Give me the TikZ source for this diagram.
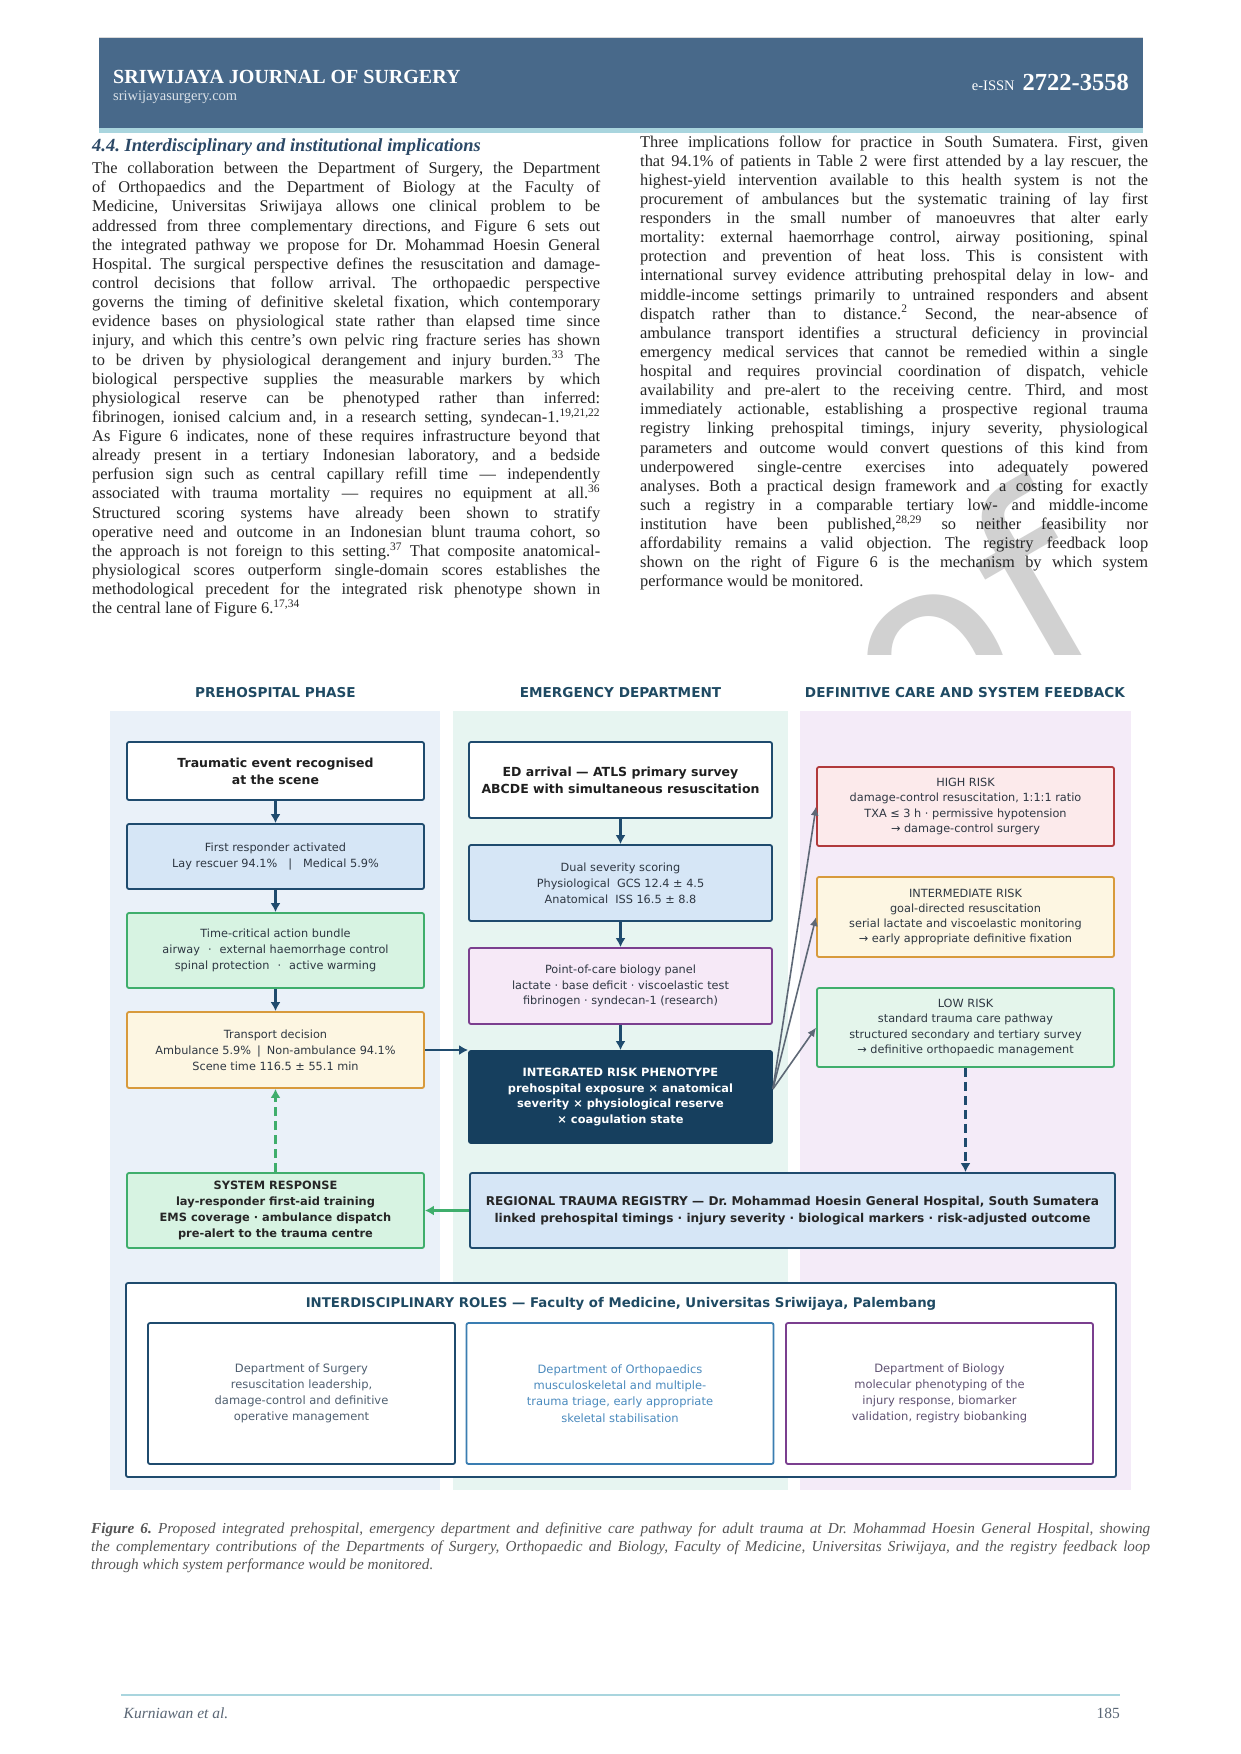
\documentclass[tikz,border=0pt]{standalone}
\usepackage{fontspec}
\setmainfont{Liberation Serif}
\newfontfamily\dvs{DejaVu Sans}
\usetikzlibrary{calc,arrows.meta}
\tolerance=9999\relax
\hbadness=10000\relax
\frenchspacing

\definecolor{hdrblue}{HTML}{48698A}
\definecolor{hdrline}{HTML}{A9D5DE}
\definecolor{headblue}{HTML}{2B4866}
\definecolor{bodytxt}{HTML}{262626}
\definecolor{captxt}{HTML}{555555}
\definecolor{navy}{HTML}{1F4B6E}
\definecolor{lanetitle}{HTML}{1F4A63}
\definecolor{laneA}{HTML}{EAF1F9}
\definecolor{laneB}{HTML}{E7F5F1}
\definecolor{laneC}{HTML}{F4EBF8}
\definecolor{boxtxt}{HTML}{2E3742}
\definecolor{bluefill}{HTML}{D6E6F6}
\definecolor{greenfill}{HTML}{D7F3E2}
\definecolor{greenline}{HTML}{3FAE6C}
\definecolor{creamfill}{HTML}{FDF6E2}
\definecolor{orangeline}{HTML}{D89A3C}
\definecolor{lilacfill}{HTML}{F6E9F7}
\definecolor{purpleline}{HTML}{7B3F8F}
\definecolor{phenofill}{HTML}{163F5E}
\definecolor{redfill}{HTML}{FCEAEB}
\definecolor{redline}{HTML}{B13A3C}
\definecolor{mintfill}{HTML}{E4F5EB}
\definecolor{fangray}{HTML}{5E6876}
\definecolor{orthoblue}{HTML}{3A7DB1}
\definecolor{orthotxt}{HTML}{4C8BBE}
\definecolor{surgtxt}{HTML}{4F5F70}
\definecolor{biotxt}{HTML}{5F5272}
\definecolor{foottxt}{HTML}{5A6675}

\begin{document}
\begin{tikzpicture}[x=1pt,y=-1pt,
  stepbox/.style={draw=navy, line width=1.8pt, rounded corners=2pt, inner sep=0pt,
    align=center, text=boxtxt, font=\dvs\fontsize{11.3}{15.8}\selectfont},
  phbox/.style={stepbox, minimum width=297pt},
  edbox/.style={stepbox, minimum width=303pt},
  boldtxt/.style={font=\dvs\bfseries\fontsize{11.4}{15.8}\selectfont, text=black!85},
  titletxt/.style={font=\dvs\bfseries\fontsize{12.5}{17}\selectfont, text=black!88},
  flow/.style={draw=navy, line width=2.4pt, -{Latex[length=9pt,width=10pt]}},
  fan/.style={draw=fangray, line width=1.6pt, -{Latex[length=9pt,width=8pt]}},
  lanehead/.style={inner sep=0pt, font=\dvs\bfseries\fontsize{13.6}{16}\selectfont, text=lanetitle},
  dept/.style={line width=1.8pt, rounded corners=2pt, fill=white, minimum width=307pt,
    minimum height=141pt, inner sep=0pt, align=center, font=\dvs\fontsize{11.5}{16.2}\selectfont},
  body/.style={anchor=base west, inner sep=0pt, text width=508pt, align=justify, text=bodytxt,
    font=\fontsize{16.4}{19.13}\selectfont}]

  \useasboundingbox (0,0) rectangle (1240,1754);
  \fill[white] (0,0) rectangle (1240,1754);

  %% Journal header band
  \fill[hdrline] (99,128) rectangle (1143,132.5);
  \fill[hdrblue] (99,38) rectangle (1143,128);
  \draw[black!15, line width=1pt] (99,37.5) -- (1143,37.5);
  \node[anchor=base west, inner sep=0pt, text=white, font=\bfseries\fontsize{20}{20}\selectfont] (jname) at (113,83) {SRIWIJAYA JOURNAL OF SURGERY};
  \node[anchor=base west, inner sep=0pt, text=white!80!hdrblue, font=\fontsize{14.5}{14.5}\selectfont] (jsite) at (113,100) {sriwijayasurgery.com};
  \node[anchor=base east, inner sep=0pt, text=white] (jissn) at (1129,90) {{\fontsize{14.5}{14.5}\selectfont e-ISSN}\hspace{8pt}{\bfseries\fontsize{24.5}{24.5}\selectfont 2722-3558}};

  %% Watermark behind the text
  \node[rotate=30, anchor=base east, inner sep=0pt, text=black!18, font=\dvs\fontsize{260}{260}\selectfont] (proofmark) at (1122,645) {Proof};

  %% Two text columns
  \node[anchor=base west, inner sep=0pt, text=headblue, font=\bfseries\itshape\fontsize{18.5}{20}\selectfont] (sechead) at (92,151) {4.4. Interdisciplinary and institutional implications};
  \node[body] (leftcol) at (92,173.7) {The collaboration between the Department of Surgery, the Department\linebreak
    of Orthopaedics and the Department of Biology at the Faculty of\linebreak
    Medicine, Universitas Sriwijaya allows one clinical problem to be\linebreak
    addressed from three complementary directions, and Figure 6 sets out\linebreak
    the integrated pathway we propose for Dr. Mohammad Hoesin General\linebreak
    Hospital. The surgical perspective defines the resuscitation and damage-\linebreak
    control decisions that follow arrival. The orthopaedic perspective\linebreak
    governs the timing of definitive skeletal fixation, which contemporary\linebreak
    evidence bases on physiological state rather than elapsed time since\linebreak
    injury, and which this centre's own pelvic ring fracture series has shown\linebreak
    to be driven by physiological derangement and injury burden.\textsuperscript{33} The\linebreak
    biological perspective supplies the measurable markers by which\linebreak
    physiological reserve can be phenotyped rather than inferred:\linebreak
    fibrinogen, ionised calcium and, in a research setting, syndecan-1.\textsuperscript{19,21,22}\linebreak
    As Figure 6 indicates, none of these requires infrastructure beyond that\linebreak
    already present in a tertiary Indonesian laboratory, and a bedside\linebreak
    perfusion sign such as central capillary refill time — independently\linebreak
    associated with trauma mortality — requires no equipment at all.\textsuperscript{36}\linebreak
    Structured scoring systems have already been shown to stratify\linebreak
    operative need and outcome in an Indonesian blunt trauma cohort, so\linebreak
    the approach is not foreign to this setting.\textsuperscript{37} That composite anatomical-\linebreak
    physiological scores outperform single-domain scores establishes the\linebreak
    methodological precedent for the integrated risk phenotype shown in\linebreak
    the central lane of Figure 6.\textsuperscript{17,34}};
  \node[body] (rightcol) at (640,147) {Three implications follow for practice in South Sumatera. First, given\linebreak
    that 94.1\% of patients in Table 2 were first attended by a lay rescuer, the\linebreak
    highest-yield intervention available to this health system is not the\linebreak
    procurement of ambulances but the systematic training of lay first\linebreak
    responders in the small number of manoeuvres that alter early\linebreak
    mortality: external haemorrhage control, airway positioning, spinal\linebreak
    protection and prevention of heat loss. This is consistent with\linebreak
    international survey evidence attributing prehospital delay in low- and\linebreak
    middle-income settings primarily to untrained responders and absent\linebreak
    dispatch rather than to distance.\textsuperscript{2} Second, the near-absence of\linebreak
    ambulance transport identifies a structural deficiency in provincial\linebreak
    emergency medical services that cannot be remedied within a single\linebreak
    hospital and requires provincial coordination of dispatch, vehicle\linebreak
    availability and pre-alert to the receiving centre. Third, and most\linebreak
    immediately actionable, establishing a prospective regional trauma\linebreak
    registry linking prehospital timings, injury severity, physiological\linebreak
    parameters and outcome would convert questions of this kind from\linebreak
    underpowered single-centre exercises into adequately powered\linebreak
    analyses. Both a practical design framework and a costing for exactly\linebreak
    such a registry in a comparable tertiary low- and middle-income\linebreak
    institution have been published,\textsuperscript{28,29} so neither feasibility nor\linebreak
    affordability remains a valid objection. The registry feedback loop\linebreak
    shown on the right of Figure 6 is the mechanism by which system\linebreak
    performance would be monitored.};

  %% Figure 6: lanes and their headings
  \fill[white] (95,655) rectangle (1145,1500);
  \foreach \x/\w/\c in {110/440/laneA, 453/788/laneB, 800/1131/laneC}
    \fill[\c] (\x,711) rectangle (\w,1490);
  \node[lanehead] (preHead) at (275.5,693) {PREHOSPITAL PHASE};
  \node[lanehead] (edHead) at (620.5,693) {EMERGENCY DEPARTMENT};
  \node[lanehead] (dcHead) at (965,693) {DEFINITIVE CARE AND SYSTEM FEEDBACK};

  %% Prehospital lane
  \node[phbox, fill=white, minimum height=58pt, titletxt] (trauma) at (275.5,771) {Traumatic event recognised\\at the scene};
  \node[phbox, fill=bluefill, minimum height=65pt] (responder) at (275.5,856.5) {First responder activated\\Lay rescuer 94.1\%\hspace{11pt}|\hspace{11pt}Medical 5.9\%};
  \node[phbox, fill=greenfill, draw=greenline, minimum height=75pt] (bundle) at (275.5,950.5) {Time-critical action bundle\\airway\hspace{8pt}·\hspace{8pt}external haemorrhage control\\spinal protection\hspace{8pt}·\hspace{8pt}active warming};
  \node[phbox, fill=creamfill, draw=orangeline, minimum height=76pt] (transport) at (275.5,1050) {Transport decision\\Ambulance 5.9\%\hspace{6pt}|\hspace{6pt}Non-ambulance 94.1\%\\Scene time 116.5 ± 55.1 min};
  \node[phbox, fill=greenfill, draw=greenline, minimum height=75pt, boldtxt] (sysresp) at (275.5,1210.5) {SYSTEM RESPONSE\\lay-responder first-aid training\\EMS coverage · ambulance dispatch\\pre-alert to the trauma centre};

  %% Emergency department lane
  \node[edbox, fill=white, minimum height=76pt, titletxt] (arrival) at (620.5,780) {ED arrival — ATLS primary survey\\ABCDE with simultaneous resuscitation};
  \node[edbox, fill=bluefill, minimum height=76pt] (scoring) at (620.5,883) {Dual severity scoring\\Physiological\hspace{7pt}GCS 12.4 ± 4.5\\Anatomical\hspace{7pt}ISS 16.5 ± 8.8};
  \node[edbox, fill=lilacfill, draw=purpleline, minimum height=76pt] (biology) at (620.5,986) {Point-of-care biology panel\\lactate · base deficit · viscoelastic test\\fibrinogen · syndecan-1 (research)};
  \node[edbox, fill=phenofill, draw=phenofill, minimum height=92pt, boldtxt, text=white] (phenotype) at (620.5,1097) {INTEGRATED RISK PHENOTYPE\\prehospital exposure × anatomical\\severity × physiological reserve\\× coagulation state};

  %% Definitive care lane
  \node[phbox, fill=redfill, draw=redline, minimum height=79pt, font=\dvs\fontsize{11.3}{15.2}\selectfont] (high) at (965.5,806.5) {HIGH RISK\\damage-control resuscitation, 1:1:1 ratio\\TXA ≤ 3 h · permissive hypotension\\→ damage-control surgery};
  \node[phbox, fill=creamfill, draw=orangeline, minimum height=80pt, font=\dvs\fontsize{11.3}{15.2}\selectfont] (inter) at (965.5,917) {INTERMEDIATE RISK\\goal-directed resuscitation\\serial lactate and viscoelastic monitoring\\→ early appropriate definitive fixation};
  \node[phbox, fill=mintfill, draw=greenline, minimum height=79pt, font=\dvs\fontsize{11.3}{15.2}\selectfont] (low) at (965.5,1027.5) {LOW RISK\\standard trauma care pathway\\structured secondary and tertiary survey\\→ definitive orthopaedic management};

  %% Registry across two lanes
  \node[stepbox, fill=bluefill, minimum width=645pt, minimum height=75pt, font=\dvs\bfseries\fontsize{12.1}{16.5}\selectfont, text=black!85] (registry) at (792.5,1210.5) {REGIONAL TRAUMA REGISTRY — Dr. Mohammad Hoesin General Hospital, South Sumatera\\linked prehospital timings · injury severity · biological markers · risk-adjusted outcome};

  %% Connectors
  \foreach \a/\b in {trauma/responder, responder/bundle, bundle/transport, arrival/scoring, scoring/biology, biology/phenotype}
    \draw[flow] (\a) -- (\b);
  \draw[flow] (transport.east) -- (transport.east -| phenotype.west);
  \foreach \r in {high,inter,low}
    \draw[fan] ($(phenotype.east)+(0,-8)$) -- (\r.west);
  \draw[flow, dash pattern=on 9pt off 5pt] (low.south) -- (low.south |- registry.north);
  \draw[flow, draw=greenline] (registry.west) -- (sysresp.east);
  \draw[flow, draw=greenline, dash pattern=on 9pt off 5pt] (sysresp.north) -- (transport.south);

  %% Interdisciplinary roles panel
  \node[draw=navy, line width=1.8pt, rounded corners=2pt, fill=white, minimum width=990pt, minimum height=194pt] (roles) at (621,1380) {};
  \node[inner sep=0pt, font=\dvs\bfseries\fontsize{13.3}{16}\selectfont, text=lanetitle] (rolesHead) at (621,1304) {INTERDISCIPLINARY ROLES — Faculty of Medicine, Universitas Sriwijaya, Palembang};
  \node[dept, draw=navy, text=surgtxt] (surgery) at (301.5,1393.5) {Department of Surgery\\resuscitation leadership,\\damage-control and definitive\\operative management};
  \node[dept, draw=orthoblue, text=orthotxt] (ortho) at (620,1393.5) {Department of Orthopaedics\\musculoskeletal and multiple-\\trauma triage, early appropriate\\skeletal stabilisation};
  \node[dept, draw=purpleline, text=biotxt] (biolog) at (939.5,1393.5) {Department of Biology\\molecular phenotyping of the\\injury response, biomarker\\validation, registry biobanking};

  %% Caption and footer
  \node[anchor=base west, inner sep=0pt, text width=1059pt, align=justify, text=captxt,
    font=\itshape\fontsize{15.2}{18}\selectfont] (caption) at (91,1533)
    {\textbf{Figure 6.} Proposed integrated prehospital, emergency department and definitive care pathway for adult trauma at Dr. Mohammad Hoesin General Hospital, showing\linebreak
    the complementary contributions of the Departments of Surgery, Orthopaedic and Biology, Faculty of Medicine, Universitas Sriwijaya, and the registry feedback loop\linebreak
    through which system performance would be monitored.};
  \draw[hdrline, line width=2pt] (121,1695) -- (1120,1695);
  \node[anchor=base west, inner sep=0pt, text=foottxt, font=\itshape\fontsize{15.5}{15.5}\selectfont] (author) at (123.5,1718) {Kurniawan et al.};
  \node[anchor=base east, inner sep=0pt, text=foottxt, font=\fontsize{15.5}{15.5}\selectfont] (pageno) at (1120,1718) {185};
\end{tikzpicture}
\end{document}
